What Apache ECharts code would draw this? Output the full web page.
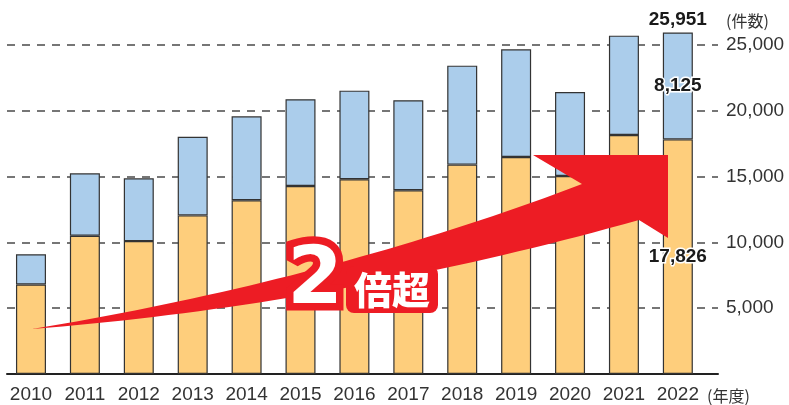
<!DOCTYPE html>
<html><head><meta charset="utf-8">
<script src="https://cdn.jsdelivr.net/npm/echarts@6/dist/echarts.min.js"></script>
<style>html,body{margin:0;padding:0;background:#fff}#c{width:789px;height:405px}</style>
</head><body><div id="c"></div>
<script>
const years = ['2010','2011','2012','2013','2014','2015','2016','2017','2018','2019','2020','2021','2022'];
const orangeVals = [6800,10500,10100,12050,13200,14290,14800,13960,15910,16490,15050,18160,17826];
const blueVals = [2300,4750,4770,5980,6380,6590,6730,6840,7520,8180,6380,7550,8125];
const yTicks = [0,5000,10000,15000,20000,25000];
const labeledIndex = 12;

const totals = orangeVals.map((v,i)=>v+blueVals[i]);
const fmt = v => Number(v).toLocaleString('en-US');
const RED = '#ED1C24';
const numFont = '"Liberation Sans", Arial, sans-serif';

function quad(p0,c,p2,n){const pts=[];for(let k=0;k<=n;k++){const t=k/n,a=(1-t)*(1-t),b=2*t*(1-t),d=t*t;pts.push([a*p0[0]+b*c[0]+d*p2[0],a*p0[1]+b*c[1]+d*p2[1]]);}return pts;}
const upper = quad([32,329],[330,280],[582,184],40);
const lower = quad([639,220],[335,305],[32,329],40);
const arrowPts = upper.concat([[533,155],[668,155],[668,238]]).concat(lower);

// data rows are [value, index]; encode maps index -> x, value -> y so stacking happens on the value
const rows = arr => arr.map((v,i)=>[v,i]);
const lbl = (extra) => Object.assign({show:true,formatter:p=>p.dataIndex===labeledIndex?fmt(p.value[0]):'',
  fontSize:19,fontWeight:'bold',color:'#1a1a1a',fontFamily:numFont}, extra);

const chart = echarts.init(document.getElementById('c'));
chart.setOption({
  animation:false,
  grid:{left:7,right:71,top:45,bottom:31},
  xAxis:{type:'value',min:-0.445,max:12.745,
    axisLine:{show:true,onZero:false,lineStyle:{color:'#222',width:2}},
    axisTick:{show:false},splitLine:{show:false},
    axisLabel:{customValues:years.map((y,i)=>i),formatter:v=>years[Math.round(v)]||'',margin:11,fontSize:19,color:'#333',fontFamily:numFont}},
  yAxis:{type:'value',position:'right',min:yTicks[0],max:yTicks[yTicks.length-1],interval:5000,
    axisLine:{show:false},axisTick:{show:false},
    splitLine:{show:true,lineStyle:{color:'#4a4a4a',width:1.5,type:[8,7]}},
    axisLabel:{margin:8,fontSize:19,color:'#333',fontFamily:numFont,formatter:v=>v===0?'':fmt(v)}},
  series:[
    {type:'bar',stack:'a',clip:false,barWidth:30,data:rows(orangeVals),encode:{x:1,y:0},
     itemStyle:{color:'#FECE7C',borderColor:'#333',borderWidth:1.2},
     label:lbl({position:'inside',textBorderColor:'#fff',textBorderWidth:3})},
    {type:'bar',stack:'a',clip:false,barWidth:30,data:rows(blueVals),encode:{x:1,y:0},
     itemStyle:{color:'#ABCDEB',borderColor:'#333',borderWidth:1.2},
     label:lbl({position:'inside',textBorderColor:'#fff',textBorderWidth:3})},
    {type:'scatter',clip:false,symbolSize:0,data:rows(totals),encode:{x:1,y:0},
     itemStyle:{opacity:1},
     label:lbl({position:'top',distance:3})}
  ],
  graphic:[
    {type:'polygon',z:50,shape:{points:arrowPts},style:{fill:RED}},
    {type:'rect',z:51,shape:{x:346,y:266,width:92,height:47,r:8},style:{fill:RED}},
    {type:'text',z:52,x:315,y:282,style:{text:'2',font:'bold 80px "DejaVu Sans"',fill:'#fff',stroke:RED,lineWidth:15,lineJoin:'round',align:'center',verticalAlign:'middle'}},
    {type:'text',z:53,x:392,y:290,style:{text:'倍超',font:'900 38px "Noto Sans CJK JP"',fill:'#fff',align:'center',verticalAlign:'middle'}},
    {type:'text',z:53,x:726,y:21,style:{text:'(件数)',font:'16px "Noto Sans CJK JP"',fill:'#333',align:'left',verticalAlign:'middle'}},
    {type:'text',z:53,x:707,y:396,style:{text:'(年度)',font:'16px "Noto Sans CJK JP"',fill:'#333',align:'left',verticalAlign:'middle'}}
  ]
});
</script></body></html>
